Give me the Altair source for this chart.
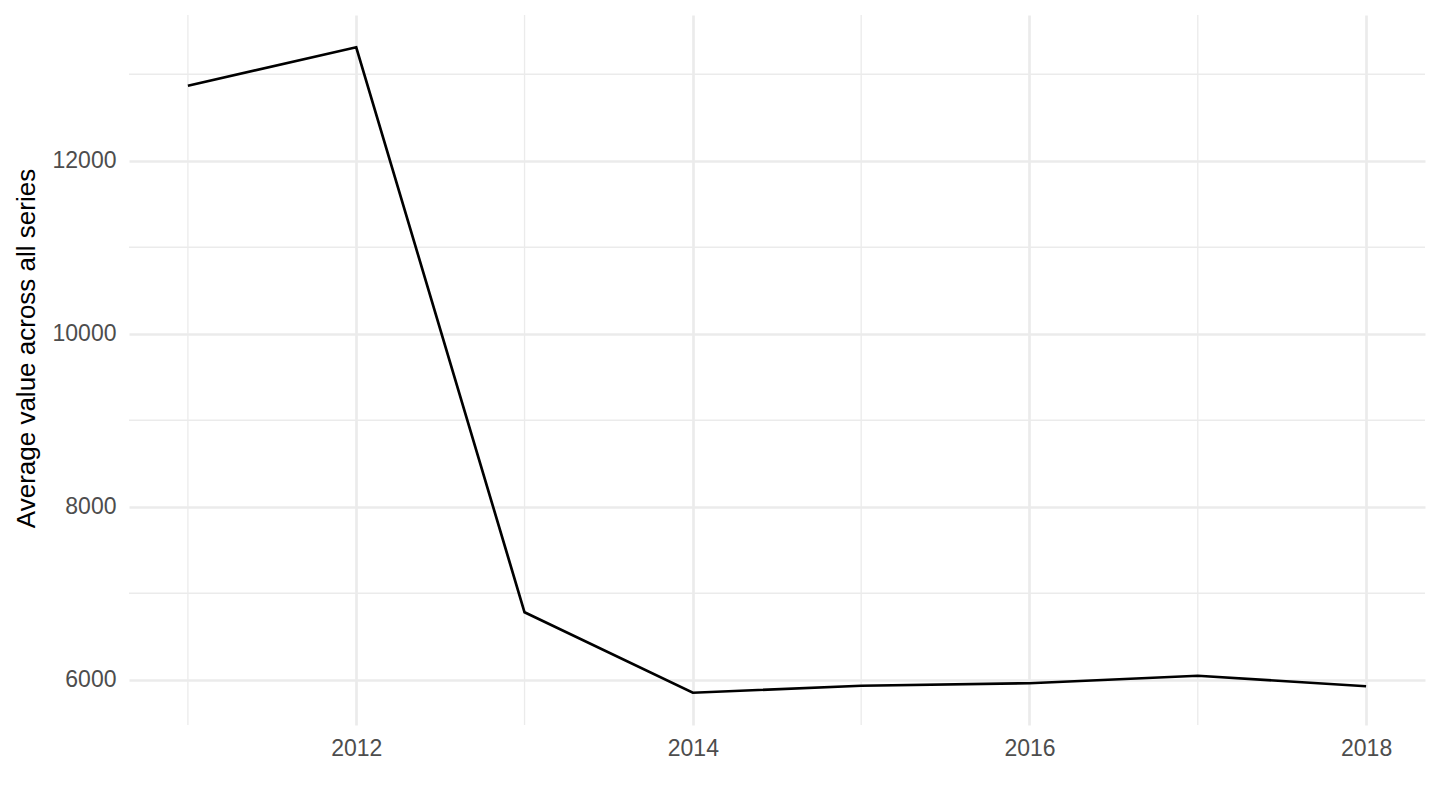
import altair as alt
import pandas as pd

years = [2011, 2012, 2013, 2014, 2015, 2016, 2017, 2018]
avg_values = [12867, 13312, 6780, 5850, 5931, 5960, 6046, 5925]

x_major = [2012, 2014, 2016, 2018]
x_minor = [2011, 2013, 2015, 2017]
y_major = [6000, 8000, 10000, 12000]
y_minor = [7000, 9000, 11000, 13000]

df = pd.DataFrame({"year": years, "value": avg_values})

# ggplot-style 5% expansion of the data range
xr = max(years) - min(years)
x_dom = [min(years) - 0.05 * xr, max(years) + 0.05 * xr]
yr = max(avg_values) - min(avg_values)
y_dom = [min(avg_values) - 0.05 * yr, max(avg_values) + 0.05 * yr]

FONT = "Liberation Sans"
GRID = "#EBEBEB"

x_scale = alt.Scale(domain=x_dom, nice=False, zero=False)
y_scale = alt.Scale(domain=y_dom, nice=False, zero=False)

x_axis = alt.Axis(
    title=None,
    values=x_major,
    format="d",
    grid=True,
    gridColor=GRID,
    gridWidth=2.67,
    domain=False,
    ticks=False,
    tickSize=0,
    labelFont=FONT,
    labelFontSize=23,
    labelColor="#4D4D4D",
    labelBaseline="alphabetic",
    labelPadding=30,
    labelAlign="center",
)

y_axis = alt.Axis(
    title="Average value across all series",
    values=y_major,
    format="d",
    grid=True,
    gridColor=GRID,
    gridWidth=2.67,
    domain=False,
    ticks=False,
    tickSize=0,
    labelFont=FONT,
    labelFontSize=23,
    labelColor="#4D4D4D",
    labelPadding=13,
    labelBaseline="middle",
    titleFont=FONT,
    titleFontSize=26,
    titleFontWeight="normal",
    titleColor="black",
    titleAngle=270,
    titleBaseline="alphabetic",
    titleAlign="center",
    titleX=-95,
    titleY=333,
)

minor_v = alt.Chart(pd.DataFrame({"year": x_minor})).mark_rule(
    color=GRID, strokeWidth=1.33
).encode(x=alt.X("year:Q", scale=x_scale, axis=x_axis))

minor_h = alt.Chart(pd.DataFrame({"value": y_minor})).mark_rule(
    color=GRID, strokeWidth=1.33
).encode(y=alt.Y("value:Q", scale=y_scale, axis=y_axis))

line = alt.Chart(df).mark_line(color="black", strokeWidth=2.67).encode(
    x=alt.X("year:Q", scale=x_scale, axis=x_axis),
    y=alt.Y("value:Q", scale=y_scale, axis=y_axis),
)

chart = (
    alt.layer(minor_v, minor_h, line)
    .properties(
        width=1296,
        height=710,
        background="white",
        autosize=alt.AutoSizeParams(type="none"),
        padding={"left": 121, "top": 7, "right": 7, "bottom": 77},
    )
    .configure_view(stroke=None)
)

chart.save("out.html", embed_options={"renderer": "svg", "actions": False})
